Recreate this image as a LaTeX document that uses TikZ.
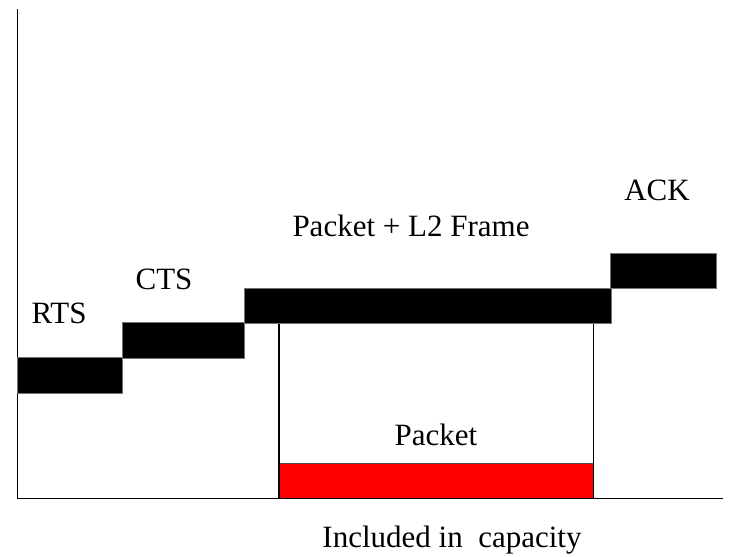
\documentclass[tikz,border=0pt]{standalone}
\usepackage{fontspec}
\setmainfont{Liberation Serif}
\begin{document}
\begin{tikzpicture}
  [x=1pt,y=-1pt,every node/.style={inner sep=0pt},
   bar/.style={rectangle,fill=black,draw=black!55,line width=0.6pt,anchor=north west},
   lbl/.style={font=\fontsize{31}{36}\selectfont}]
  \useasboundingbox (0,0) rectangle (748,557);
  \coordinate (top) at (17,9);
  \coordinate (orig) at (17,498);
  \coordinate (xend) at (723,498);
  \draw[line width=1pt] (top) -- (orig) -- (xend);
  \node[bar,minimum width=105pt,minimum height=36pt] (rts) at (17,357) {};
  \node[bar,minimum width=122pt,minimum height=36pt] (cts) at (122,322) {};
  \node[bar,minimum width=367pt,minimum height=35pt] (frame) at (244,288) {};
  \node[bar,minimum width=106pt,minimum height=35pt] (ack) at (610,253) {};
  \node[bar,fill=red,draw=none,minimum width=314pt,minimum height=35pt] (pkt) at (279,463) {};
  \draw[black!70,line width=1pt] (pkt.north west) -- (pkt.north east);
  \foreach \corner in {south west,south east}
    \draw[dash pattern=on 1.2pt off 0.8pt,line width=1.6pt] (pkt.\corner) -- (pkt.\corner |- frame.south);
  \node[lbl] (rtslbl) at (59,313) {RTS};
  \node[lbl] (ctslbl) at (164,279) {CTS};
  \node[lbl] (framelbl) at (411,226) {Packet + L2 Frame};
  \node[lbl] (acklbl) at (657,190) {ACK};
  \node[lbl] (pktlbl) at (436,435) {Packet};
  \node[lbl] (caplbl) at (452,540) {Included in\ \ capacity};
\end{tikzpicture}
\end{document}
